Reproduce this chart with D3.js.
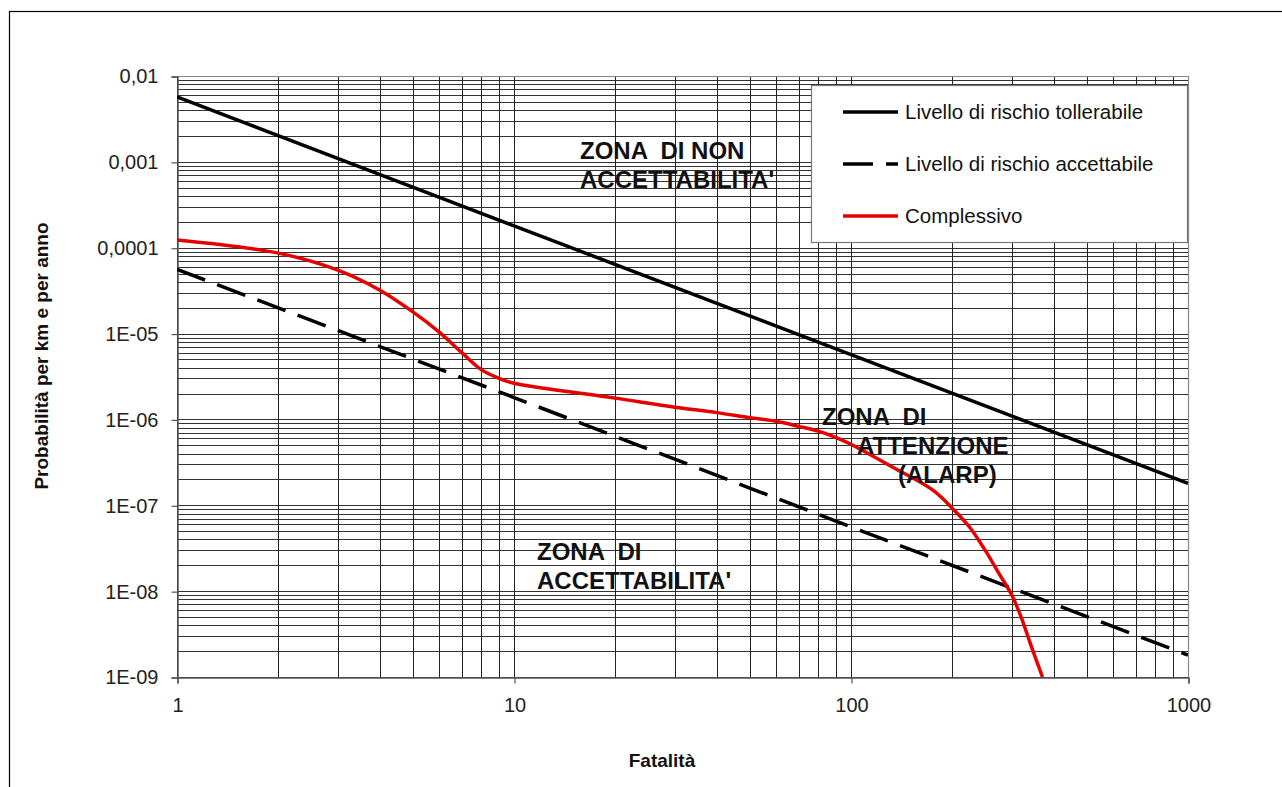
<!DOCTYPE html>
<html>
<head>
<meta charset="utf-8">
<script src="https://cdn.jsdelivr.net/npm/d3@7"></script>
<style>
  body { margin: 0; background: #fff; }
  text { font-family: "Liberation Sans", Arial, sans-serif; }
</style>
</head>
<body>
<div id="chart"></div>
<script>
// data
var tolN = [1, 10, 100, 1000];
var tolP = [5.7e-3, 1.8e-4, 5.7e-6, 1.8e-7];
var accN = [1, 10, 100, 1000];
var accP = [5.6e-5, 1.8e-6, 5.6e-8, 1.8e-9];
var compN = [1, 2, 3, 4, 5, 6, 7, 8, 9, 10, 20, 30, 40, 50, 60, 70, 80, 90, 100, 133, 175, 200, 225, 250, 275, 300, 321, 340, 370];
var compP = [1.23e-4, 8.65e-5, 5.48e-5, 3.2e-5, 1.8e-5, 1.04e-5, 6.0e-6, 3.8e-6, 3.02e-6, 2.64e-6,
             1.77e-6, 1.39e-6, 1.2e-6, 1.05e-6, 9.5e-7, 8.3e-7, 7.3e-7, 6.2e-7, 5.14e-7, 2.77e-7,
             1.5e-7, 9.2e-8, 5.55e-8, 3.0e-8, 1.6e-8, 9.0e-9, 4.8e-9, 2.5e-9, 1e-9];
var xTicks = [1, 10, 100, 1000];
var yTicks = [1e-2, 1e-3, 1e-4, 1e-5, 1e-6, 1e-7, 1e-8, 1e-9];
var yTickLabels = ["0,01", "0,001", "0,0001", "1E-05", "1E-06", "1E-07", "1E-08", "1E-09"];
var legendLabels = ["Livello di rischio tollerabile", "Livello di rischio accettabile", "Complessivo"];

var W = 1282, H = 787;
var plotL = 177, plotR = 1188, plotT = 76, plotB = 677;

var svg = d3.select("#chart").append("svg")
    .attr("width", W)
    .attr("height", H);

// outer frame
svg.append("rect")
    .attr("x", 9.5).attr("y", 11.5)
    .attr("width", 1300).attr("height", 800)
    .attr("fill", "none")
    .attr("stroke", "#000")
    .attr("stroke-width", 1.2);

var x = d3.scaleLog().domain([1, 1000]).range([plotL, plotR]);
var y = d3.scaleLog().domain([1e-9, 1e-2]).range([plotB, plotT]);

// minor + major grid
var xGrid = [];
for (var k = 0; k < 3; k++) {
    for (var m = 1; m <= 9; m++) xGrid.push(m * Math.pow(10, k));
}
xGrid.push(1000);
var yGrid = [];
for (var e = -9; e < -2; e++) {
    for (var m2 = 1; m2 <= 9; m2++) yGrid.push(m2 * Math.pow(10, e));
}
yGrid.push(1e-2);

svg.append("g").selectAll("line")
    .data(yGrid)
    .enter()
    .append("line")
    .attr("x1", plotL).attr("x2", plotR)
    .attr("y1", function(d) { return Math.round(y(d)) + 0.5; })
    .attr("y2", function(d) { return Math.round(y(d)) + 0.5; })
    .attr("stroke", "#333")
    .attr("stroke-width", 1);

svg.append("g").selectAll("line")
    .data(xGrid)
    .enter()
    .append("line")
    .attr("y1", plotT).attr("y2", plotB)
    .attr("x1", function(d) { return Math.round(x(d)) + 0.5; })
    .attr("x2", function(d) { return Math.round(x(d)) + 0.5; })
    .attr("stroke", "#222")
    .attr("stroke-width", 1);

// plot border top/right
svg.append("path")
    .attr("d", "M" + plotL + "," + (plotT + 0.5) + "H" + (plotR + 0.5) + "V" + plotB)
    .attr("fill", "none")
    .attr("stroke", "#888")
    .attr("stroke-width", 1.2);

// axes
var yAxis = d3.axisLeft(y)
    .tickValues(yTicks)
    .tickSize(6)
    .tickPadding(13)
    .tickFormat(function(d, i) { return yTickLabels[i]; });
var gy = svg.append("g")
    .attr("transform", "translate(" + (plotL + 0.5) + ",0.5)")
    .call(yAxis);
gy.select(".domain").attr("stroke", "#555").attr("stroke-width", 1.5);
gy.selectAll(".tick line").attr("stroke", "#555").attr("stroke-width", 1.2);
gy.selectAll("text").attr("font-size", 20).attr("fill", "#222")
    .style("font-family", "Liberation Sans, Arial, sans-serif");

var xAxis = d3.axisBottom(x)
    .tickValues(xTicks)
    .tickSize(6)
    .tickPadding(14)
    .tickFormat(d3.format("d"));
var gx = svg.append("g")
    .attr("transform", "translate(0.5," + (plotB + 0.5) + ")")
    .call(xAxis);
gx.select(".domain").attr("stroke", "#555").attr("stroke-width", 1.5);
gx.selectAll(".tick line").attr("stroke", "#555").attr("stroke-width", 1.2);
gx.selectAll("text").attr("font-size", 20).attr("fill", "#222")
    .style("font-family", "Liberation Sans, Arial, sans-serif");

// clip
svg.append("clipPath").attr("id", "plotClip")
    .append("rect")
    .attr("x", plotL).attr("y", plotT)
    .attr("width", plotR - plotL).attr("height", plotB - plotT);

var straight = d3.line()
    .x(function(d) { return x(d[0]); })
    .y(function(d) { return y(d[1]); });
var smooth = d3.line()
    .x(function(d) { return x(d[0]); })
    .y(function(d) { return y(d[1]); })
    .curve(d3.curveCatmullRom.alpha(0.5));

var plot = svg.append("g").attr("clip-path", "url(#plotClip)");

plot.append("path")
    .datum(d3.zip(tolN, tolP))
    .attr("d", straight)
    .attr("fill", "none")
    .attr("stroke", "#000")
    .attr("stroke-width", 3.5);

plot.append("path")
    .datum(d3.zip(accN, accP))
    .attr("d", straight)
    .attr("fill", "none")
    .attr("stroke", "#000")
    .attr("stroke-width", 3.5)
    .attr("stroke-dasharray", "30,13");

plot.append("path")
    .datum(d3.zip(compN, compP))
    .attr("d", smooth)
    .attr("fill", "none")
    .attr("stroke", "#e60000")
    .attr("stroke-width", 3.5);

// zone labels
var zones = [
    {lines: ["ZONA  DI NON", "ACCETTABILITA'"], x: 580, y: 159, dx: [0, 0]},
    {lines: ["ZONA  DI", "ATTENZIONE", "(ALARP)"], x: 822, y: 425, dx: [0, 35, 76]},
    {lines: ["ZONA  DI", "ACCETTABILITA'"], x: 537, y: 560, dx: [0, 0]}
];
zones.forEach(function(z) {
    z.lines.forEach(function(l, i) {
        svg.append("text")
            .attr("x", z.x + z.dx[i])
            .attr("y", z.y + i * 29)
            .attr("font-size", 24)
            .attr("font-weight", "bold")
            .attr("fill", "#111")
            .style("white-space", "pre")
            .text(l);
    });
});

// legend
var lg = svg.append("g");
lg.append("rect")
    .attr("x", 811.5).attr("y", 85.5)
    .attr("width", 376).attr("height", 157)
    .attr("fill", "#fff")
    .attr("stroke", "#777")
    .attr("stroke-width", 1.2);
var legStyles = [
    {color: "#000", dash: null},
    {color: "#000", dash: "30,13"},
    {color: "#e60000", dash: null}
];
legendLabels.forEach(function(name, i) {
    var ly = 112 + i * 52;
    lg.append("line")
        .attr("x1", 843).attr("x2", 898)
        .attr("y1", ly).attr("y2", ly)
        .attr("stroke", legStyles[i].color)
        .attr("stroke-width", 3.5)
        .attr("stroke-dasharray", legStyles[i].dash);
    lg.append("text")
        .attr("x", 905)
        .attr("y", ly + 7)
        .attr("font-size", 20.5)
        .attr("fill", "#111")
        .text(name);
});

// axis titles
svg.append("text")
    .attr("x", 662)
    .attr("y", 767)
    .attr("text-anchor", "middle")
    .attr("font-size", 19)
    .attr("font-weight", "bold")
    .attr("fill", "#111")
    .text("Fatalità");

svg.append("text")
    .attr("transform", "translate(48,356) rotate(-90)")
    .attr("text-anchor", "middle")
    .attr("font-size", 19)
    .attr("font-weight", "bold")
    .attr("fill", "#111")
    .text("Probabilità per km e per anno");
</script>
</body>
</html>
